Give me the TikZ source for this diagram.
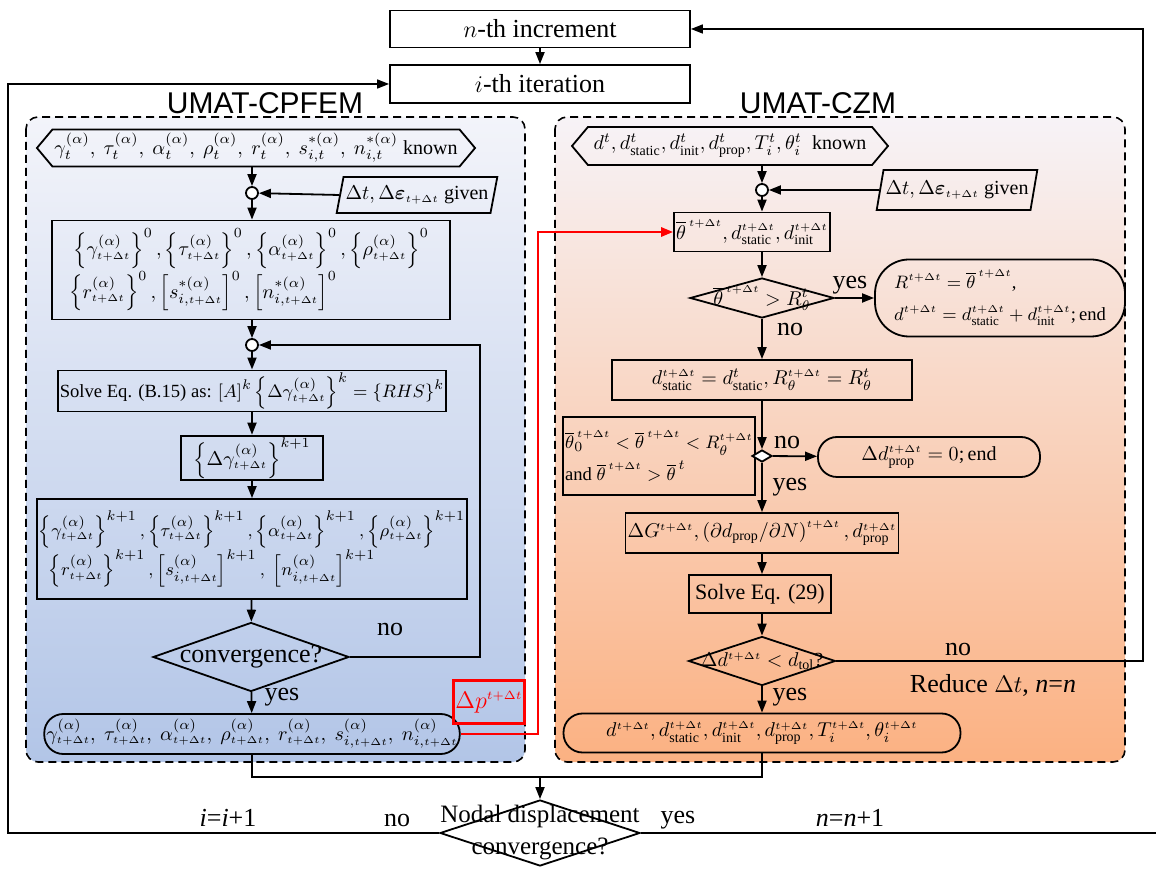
\documentclass[tikz,border=0pt]{standalone}
\usepackage{amsmath}
\usepackage{fontspec}
\setmainfont{Liberation Serif}
\newfontfamily\titlefont{Liberation Sans}
\usetikzlibrary{shapes.geometric,shapes.symbols,arrows.meta}
\definecolor{cpTop}{HTML}{F3F4FA}
\definecolor{cpMid}{HTML}{C9D5EC}
\definecolor{cpBot}{HTML}{B2C5E7}
\definecolor{czTop}{HTML}{F7F3F7}
\definecolor{czMid}{HTML}{FBD0B2}
\definecolor{czBot}{HTML}{FBB182}
\newcommand{\tdt}{{\scriptscriptstyle t+\Delta t}}
\newcommand{\rmsub}[1]{\mathrm{#1}}

\begin{document}
\begin{tikzpicture}[x=0.5pt, y=-0.5pt,
  box/.style={rectangle, draw, line width=0.9pt, inner sep=1pt, align=center, font=\fontsize{10}{15}\selectfont},
  small/.style={font=\fontsize{9.3}{14}\selectfont},
  term/.style={box, rounded corners=9.5pt},
  io/.style={box, signal, signal to=west and east, signal pointer angle=100},
  given/.style={box, trapezium, trapezium left angle=73, trapezium right angle=107, trapezium stretches=true},
  test/.style={diamond, draw, line width=0.9pt, inner sep=0pt},
  junc/.style={circle, draw, fill=white, line width=0.9pt, inner sep=0pt, minimum size=6pt},
  lbl/.style={font=\fontsize{13}{15}\selectfont},
  panel/.style={draw, dash pattern=on 4pt off 2.5pt, line width=0.8pt, rounded corners=6pt},
  arrow/.style={-{Triangle[length=6pt,width=4.5pt]}, line width=0.9pt},
  conn/.style={line width=0.9pt}
]
  \useasboundingbox (0,0) rectangle (1156,870);

  % Panels
  \path[panel, top color=cpTop, middle color=cpMid, bottom color=cpBot] (26,117) rectangle (525,762);
  \path[panel, top color=czTop, middle color=czMid, bottom color=czBot] (555,117) rectangle (1125,762);
  \node[font=\titlefont\fontsize{15}{17}\selectfont] (tCP) at (265,103) {UMAT-CPFEM};
  \node[font=\titlefont\fontsize{15}{17}\selectfont] (tCZ) at (818,103) {UMAT-CZM};

  % Increment / iteration
  \node[box, font=\fontsize{13}{15}\selectfont, minimum width=150pt, minimum height=18.5pt] (inc) at (540,29) {$n$-th increment};
  \node[box, font=\fontsize{13}{15}\selectfont, minimum width=150pt, minimum height=19pt] (iter) at (540,84) {$i$-th iteration};

  % UMAT-CPFEM column
  \node[io, minimum width=208pt, minimum height=18.5pt] (knL) at (256,148) {$\gamma_t^{(\alpha)},\ \tau_t^{(\alpha)},\ \alpha_t^{(\alpha)},\ \rho_t^{(\alpha)},\ r_t^{(\alpha)},\ s_{i,t}^{*(\alpha)},\ n_{i,t}^{*(\alpha)}$ known};
  \node[junc] (jL1) at (252,193) {};
  \node[given, minimum width=77pt, minimum height=18pt] (gvL) at (417,195) {$\Delta t,\Delta\boldsymbol{\varepsilon}_{\tdt}$ given};
  \node[box, minimum width=199pt, minimum height=49.5pt] (iniL) at (251,270) {$\left\{\gamma_{\tdt}^{(\alpha)}\right\}^0,\left\{\tau_{\tdt}^{(\alpha)}\right\}^0,\left\{\alpha_{\tdt}^{(\alpha)}\right\}^0,\left\{\rho_{\tdt}^{(\alpha)}\right\}^0$\\ $\left\{r_{\tdt}^{(\alpha)}\right\}^0,\left[s_{i,\tdt}^{*(\alpha)}\right]^0,\left[n_{i,\tdt}^{*(\alpha)}\right]^0$\hspace*{48pt}};
  \node[junc] (jL2) at (252,345) {};
  \node[box, small, minimum width=191pt, minimum height=18.5pt] (slvL) at (252,391) {Solve Eq. (B.15) as: $\left[A\right]^k\left\{\Delta\gamma_{\tdt}^{(\alpha)}\right\}^k=\left\{RHS\right\}^k$};
  \node[box, minimum width=71pt, minimum height=20pt] (dgL) at (252,458) {$\left\{\Delta\gamma_{\tdt}^{(\alpha)}\right\}^{k+1}$};
  \node[box, small, minimum width=199pt, minimum height=50pt] (updL) at (252,549) {$\left\{\gamma_{\tdt}^{(\alpha)}\right\}^{k+1},\left\{\tau_{\tdt}^{(\alpha)}\right\}^{k+1},\left\{\alpha_{\tdt}^{(\alpha)}\right\}^{k+1},\left\{\rho_{\tdt}^{(\alpha)}\right\}^{k+1}$\\ $\left\{r_{\tdt}^{(\alpha)}\right\}^{k+1},\left[s_{i,\tdt}^{(\alpha)}\right]^{k+1},\ \left[n_{i,\tdt}^{(\alpha)}\right]^{k+1}$\hspace*{40pt}};
  \node[test, minimum width=98pt, minimum height=34.5pt, label={[lbl]center:{convergence?}}] (cvL) at (251,657) {};
  \node[term, minimum width=199pt, minimum height=20pt] (fL) at (252,734) {$\gamma_{\tdt}^{(\alpha)},\ \tau_{\tdt}^{(\alpha)},\ \alpha_{\tdt}^{(\alpha)},\ \rho_{\tdt}^{(\alpha)},\ r_{\tdt}^{(\alpha)},\ s_{i,\tdt}^{(\alpha)},\ n_{i,\tdt}^{(\alpha)}$};
  \node[lbl] (noL) at (390,630) {no};
  \node[lbl] (yesL) at (282,697) {yes};
  \node[box, draw=red, line width=1.5pt, text=red, font=\fontsize{12}{14}\selectfont, minimum width=29.5pt, minimum height=21pt] (dp) at (489,702) {$\Delta p^{\tdt}$};

  % UMAT-CZM column
  \node[io, minimum width=158pt, minimum height=19pt] (knR) at (730,146) {$d^t,d_{\rmsub{static}}^t,d_{\rmsub{init}}^t,d_{\rmsub{prop}}^t,T_i^t,\theta_i^t$\ \ known};
  \node[junc] (jR) at (762,190) {};
  \node[given, minimum width=73.5pt, minimum height=20pt] (gvR) at (957,190) {$\Delta t,\Delta\boldsymbol{\varepsilon}_{\tdt}$ given};
  \node[box, minimum width=70pt, minimum height=19.5pt] (thB) at (752,232) {$\overline{\theta}^{\,\tdt},d_{\rmsub{static}}^{\tdt},d_{\rmsub{init}}^{\tdt}$};
  \node[test, minimum width=72pt, minimum height=20pt, label={[font=\fontsize{10}{13}\selectfont]center:{$\overline{\theta}^{\,\tdt}>R_\theta^t$}}] (d1) at (762,298) {};
  \node[box, small, rounded corners=17pt, align=left, minimum width=125pt, minimum height=38.5pt] (rB) at (1000,298) {$R^{\tdt}=\overline{\theta}^{\,\tdt}$,\\[2pt] $d^{\tdt}=d_{\rmsub{static}}^{\tdt}+d_{\rmsub{init}}^{\tdt}$;\,end};
  \node[lbl] (yes1) at (850,285) {yes};
  \node[lbl] (no1) at (790,330) {no};
  \node[box, minimum width=150pt, minimum height=20pt] (stB) at (762,380) {$d_{\rmsub{static}}^{\tdt}=d_{\rmsub{static}}^t,R_\theta^{\tdt}=R_\theta^t$};
  \node[box, small, align=left, minimum width=91pt, minimum height=39pt] (cnd) at (659,456) {$\overline{\theta}_0^{\,\tdt}<\overline{\theta}^{\,\tdt}<R_\theta^{\tdt}$\\[2pt] and $\overline{\theta}^{\,\tdt}>\overline{\theta}^{\,t}$};
  \node[test, fill=white, minimum width=10pt, minimum height=6pt] (d2) at (762,456) {};
  \node[term, minimum width=111pt, minimum height=20pt] (zB) at (929,457) {$\Delta d_{\rmsub{prop}}^{\tdt}=0$;\,end};
  \node[lbl] (no2) at (787,443) {no};
  \node[lbl] (yes2) at (790,487) {yes};
  \node[box, minimum width=118.5pt, minimum height=20pt] (gB) at (762,533) {$\Delta G^{\tdt},\left(\partial d_{\rmsub{prop}}/\partial N\right)^{\tdt},d_{\rmsub{prop}}^{\tdt}$};
  \node[box, font=\fontsize{11}{14}\selectfont, minimum width=71pt, minimum height=19pt] (slvR) at (760,594) {Solve Eq. (29)};
  \node[test, minimum width=73.5pt, minimum height=24.5pt, label={[font=\fontsize{10}{13}\selectfont]center:{$\Delta d^{\tdt}<d_{\rmsub{tol}}$?}}] (d3) at (762,661) {};
  \node[lbl] (no3) at (958,650) {no};
  \node[lbl] (red3) at (993,685) {Reduce $\Delta t$, \textit{n}=\textit{n}};
  \node[lbl] (yes3) at (790,697) {yes};
  \node[term, minimum width=198.5pt, minimum height=19.5pt] (fR) at (762,733) {$d^{\tdt},d_{\rmsub{static}}^{\tdt},d_{\rmsub{init}}^{\tdt},d_{\rmsub{prop}}^{\tdt},T_i^{\tdt},\theta_i^{\tdt}$};

  % Nodal check
  \node[test, minimum width=100pt, minimum height=33pt, label={[font=\fontsize{12.5}{16}\selectfont, align=center]center:{Nodal displacement\\convergence?}}] (nod) at (540,833) {};
  \node[lbl] (iinc) at (228,818) {\textit{i}=\textit{i}+1};
  \node[lbl] (noN) at (397,820) {no};
  \node[lbl] (yesN) at (678,820) {yes};
  \node[lbl] (ninc) at (850,818) {\textit{n}=\textit{n}+1};

  \coordinate (loopL) at (480,500);
  \coordinate (redX) at (538,500);
  \coordinate (loopR) at (1143,300);
  \coordinate (loopO) at (8,400);
  \coordinate (outR) at (1156,833);
  \coordinate (mrg) at (540,777);

  % Arrows, CPFEM
  \draw[arrow] (inc) -- (iter);
  \draw[arrow] (jL1 |- knL.south) -- (jL1);
  \draw[arrow] (gvL.west) -- (jL1);
  \draw[arrow] (jL1) -- (jL1 |- iniL.north);
  \draw[arrow] (jL2 |- iniL.south) -- (jL2);
  \draw[arrow] (jL2) -- (jL2 |- slvL.north);
  \draw[arrow] (slvL) -- (dgL);
  \draw[arrow] (dgL) -- (updL);
  \draw[arrow] (updL) -- (cvL);
  \draw[arrow] (cvL) -- (fL);
  \draw[arrow] (cvL.east) -| (loopL) |- (jL2.east);
  \draw[arrow, red, line width=1.3pt] (fL.east) -| (redX) |- (thB.west);

  % Arrows, CZM
  \draw[arrow] (jR |- knR.south) -- (jR);
  \draw[arrow] (gvR.west) -- (jR);
  \draw[arrow] (jR) -- (jR |- thB.north);
  \draw[arrow] (jR |- thB.south) -- (d1);
  \draw[arrow] (d1) -- (rB);
  \draw[arrow] (d1) -- (stB);
  \draw[arrow] (stB) -- (d2);
  \draw[arrow] (d2) -- (zB);
  \draw[arrow] (d2) -- (gB);
  \draw[arrow] (gB.south -| d2) -- (slvR.north -| d2);
  \draw[arrow] (slvR.south -| d2) -- (d3);
  \draw[arrow] (d3) -- (fR);
  \draw[arrow, line width=0.75pt] (d3.east) -| (loopR) |- (inc.east);

  % Merge and outer loops
  \draw[conn] (fL.south) |- (mrg) -| (fR.south);
  \draw[arrow] (mrg) -- (nod.north);
  \draw[arrow, line width=0.75pt] (nod.west) -| (loopO) |- (iter.west);
  \draw[conn, line width=0.75pt] (nod.east) -- (outR);
\end{tikzpicture}
\end{document}
